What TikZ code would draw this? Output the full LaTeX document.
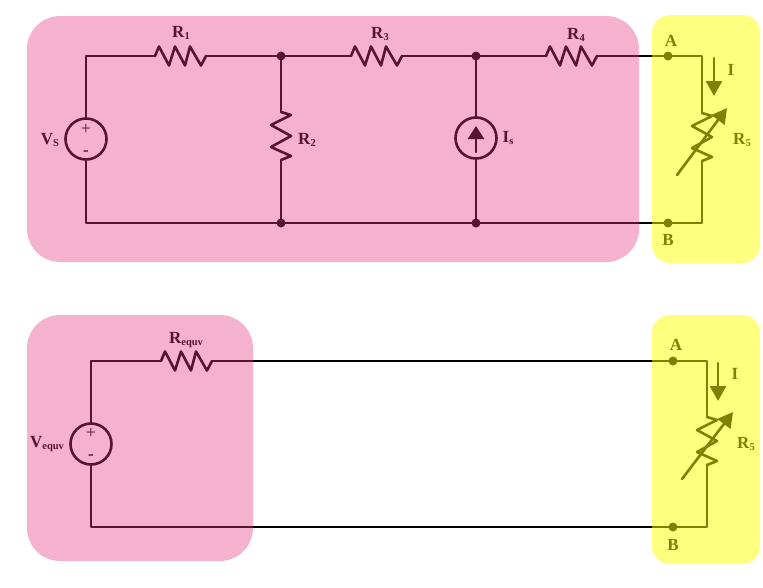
\documentclass[tikz,border=0pt]{standalone}
\usepackage{fontspec}
\setmainfont{Liberation Serif}
\usetikzlibrary{arrows.meta}
\definecolor{panelpink}{RGB}{230,52,128}
\definecolor{panelyellow}{RGB}{255,255,0}
\newcommand{\subs}[1]{\raisebox{-2.5pt}{\fontsize{10.5}{10.5}\selectfont\bfseries #1}}
\tikzset{
	wire/.style={line width=2.6pt},
	tag/.style={inner sep=0pt, font=\fontsize{17}{17}\selectfont\bfseries},
	source/.style={circle, draw, line width=2.6pt, minimum size=41pt, inner sep=0pt},
	pinkpanel/.style={fill=panelpink, fill opacity=.38, rounded corners=33pt},
	yellowpanel/.style={fill=panelyellow, fill opacity=.5, rounded corners=18pt},
	resistor/.pic={
		\draw[wire] (-26,0)--(-22,-9.5)--(-12,9.5)--(-6,-9.5)--(4,9.5)--(9,-9.5)--(20,9.5)--(25,0);
		\coordinate (-in) at (-26,0);
		\coordinate (-out) at (25,0);
	},
	upright/.pic={
		\draw[wire] (0,-24)--(10,-21)--(-10,-11)--(10,0)--(-10,11)--(10,20)--(0,24);
		\coordinate (-in) at (0,-24);
		\coordinate (-out) at (0,24);
	},
	heavytip/.style={-{Triangle[length=15pt,width=16pt]}, line width=2.6pt},
}
\begin{document}
\begin{tikzpicture}[x=1pt, y=-1pt, line cap=round, line join=round]
	\useasboundingbox (0,0) rectangle (763,587);

	% upper circuit
	\path
	(86,56) coordinate (TL)
	(86,223) coordinate (BL)
	(281,56) coordinate (N1)
	(281,223) coordinate (N2)
	(476,56) coordinate (N3)
	(476,223) coordinate (N4)
	(668,56) coordinate (A)
	(668,223) coordinate (B)
	(702,56) coordinate (TR)
	(702,223) coordinate (BR)
	;
	\node[source] (Vs) at (86,139) {};
	\node[source] (Is) at (476,138) {};
	\path (181,56) pic (R1) {resistor};
	\path (281,136) pic (R2) {upright};
	\path (377,56) pic (R3) {resistor};
	\path (572,56) pic (R4) {resistor};
	\path (702,137) pic (R5) {upright};

	\draw[wire] (Vs.north)--(TL)--(R1-in) (R1-out)--(N1)--(R3-in) (R3-out)--(N3)--(R4-in) (R4-out)--(A)--(TR)--(R5-in);
	\draw[wire] (Vs.south)--(BL)--(N2)--(N4)--(B)--(BR)--(R5-out);
	\draw[wire] (N1)--(R2-in) (R2-out)--(N2);
	\draw[wire] (N3)--(Is.north) (Is.south)--(N4);

	\foreach \p in {N1,N2,N3,N4,A,B}
	\fill (\p) circle (4.5pt);

	\coordinate (Iarrowa) at (476,152);
	\coordinate (Iarrowb) at (476,126);
	\draw[-{Triangle[length=13pt,width=16pt]}, line width=2.6pt] (Iarrowa)--(Iarrowb);

	\coordinate (Ia) at (714,58);
	\coordinate (Ib) at (714,96);
	\draw[heavytip] (Ia)--(Ib);
	\coordinate (Va) at (677,175);
	\coordinate (Vb) at (727,108);
	\draw[heavytip] (Va)--(Vb);

	\node[tag] (lVs) at (50,140) {V\subs{S}};
	\node[tag] at (86,129) (vsp) {\fontsize{18}{18}\selectfont\mdseries +};
	\node[tag] at (86,153) (vsm) {-};
	\node[tag] (lR1) at (181,33) {R\subs{1}};
	\node[tag] (lR2) at (307,140) {R\subs{2}};
	\node[tag] (lR3) at (380,34) {R\subs{3}};
	\node[tag] (lR4) at (576,35) {R\subs{4}};
	\node[tag] (lIs) at (508,138) {I\subs{s}};
	\node[tag] (lA) at (671,41) {A};
	\node[tag] (lB) at (668,240) {B};
	\node[tag] (lI) at (731,70) {I};
	\node[tag] (lR5) at (742,140) {R\subs{5}};

	% lower circuit
	\path
	(91,361) coordinate (tl)
	(91,527) coordinate (bl)
	(673,361) coordinate (a)
	(673,527) coordinate (b)
	(707,361) coordinate (tr)
	(707,527) coordinate (br)
	;
	\node[source] (Veq) at (91,444) {};
	\path (187,361) pic (Req) {resistor};
	\path (707,441) pic (Rv) {upright};

	\draw[wire] (Veq.north)--(tl)--(Req-in) (Req-out)--(a)--(tr)--(Rv-in);
	\draw[wire] (Veq.south)--(bl)--(b)--(br)--(Rv-out);

	\foreach \p in {a,b}
	\fill (\p) circle (4.5pt);

	\coordinate (ia) at (718,363);
	\coordinate (ib) at (718,401);
	\draw[heavytip] (ia)--(ib);
	\coordinate (va) at (682,479);
	\coordinate (vb) at (733,412);
	\draw[heavytip] (va)--(vb);

	\node[tag] (lVeq) at (47,444) {V\subs{equv}};
	\node[tag] at (91,433) (veqp) {\fontsize{18}{18}\selectfont\mdseries +};
	\node[tag] at (91,457) (veqm) {-};
	\node[tag] (lReq) at (186,340) {R\subs{equv}};
	\node[tag] (la) at (676,345) {A};
	\node[tag] (lb) at (673,545) {B};
	\node[tag] (li) at (735,374) {I};
	\node[tag] (lRv) at (746,444) {R\subs{5}};

	% panels go over the wires
	\fill[pinkpanel] (27,16) rectangle (639,262);
	\fill[yellowpanel] (652,15) rectangle (760,263);
	\fill[pinkpanel] (27,315) rectangle (253,561);
	\fill[yellowpanel] (652,315) rectangle (760,564);
\end{tikzpicture}
\end{document}
